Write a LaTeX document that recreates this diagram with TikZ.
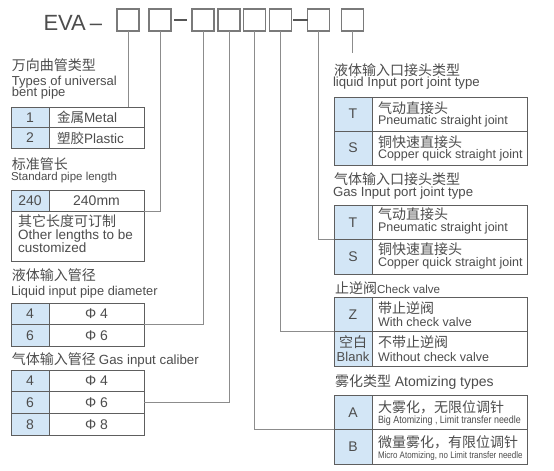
\documentclass[tikz,border=0pt]{standalone}
\usepackage{fontspec}
\usepackage{graphicx}
\setmainfont{Liberation Sans}
\newfontfamily\cjk{Noto Sans CJK SC}
\newcommand\zh[1]{{\cjk #1}}
\newcommand\fs[1]{\fontsize{#1}{#1}\selectfont}
\definecolor{txtc}{HTML}{4D4D4D}
\definecolor{keyc}{HTML}{D3E6F6}
\definecolor{gridc}{HTML}{5E5E5E}
\definecolor{linec}{HTML}{8C8C8C}
\definecolor{boxc}{HTML}{7A7A7A}
\definecolor{dashc}{HTML}{555555}
\begin{document}
\begin{tikzpicture}[x=1pt,y=-1pt,
  tc/.style={inner sep=0pt, outer sep=0pt, text=txtc, anchor=west},
  hbox/.style={draw=boxc, line width=1.3pt, minimum size=22pt, inner sep=0pt, outer sep=0pt},
  kcell/.style={draw=gridc, line width=1pt, fill=keyc, anchor=north west, inner sep=0pt, outer sep=0pt, minimum width=38pt, text=txtc, font=\fs{14}},
  vcell/.style={draw=gridc, line width=1pt, fill=white, anchor=north west, inner sep=0pt, outer sep=0pt, text=txtc, font=\fs{14}},
  conn/.style={draw=linec, line width=0.9pt},
  dashln/.style={draw=dashc, line width=1.8pt},
  zhf/.style={font={\cjk\fs{14}}},
]
\useasboundingbox[fill=white] (0,0) rectangle (554,471);

% header
\node[tc, anchor=base west, font=\fs{22}] (eva) at (43.5,30) {EVA\kern4pt–};
\node[hbox] (b1) at (128,20) {};
\node[hbox] (b2) at (160,20) {};
\node[hbox] (b3) at (203,20) {};
\node[hbox] (b4) at (229,20) {};
\node[hbox] (b5) at (254.5,20) {};
\node[hbox] (b6) at (280.5,20) {};
\node[hbox] (b7) at (318.5,20) {};
\node[hbox] (b8) at (352.5,20) {};
\draw[dashln] ([xshift=3pt]b2.east) -- ([xshift=-5pt]b3.west);
\draw[dashln] ([xshift=1.5pt]b6.east) -- (b7.west);

% connectors (drawn first)
\coordinate (b8end) at (352.5,53);
\draw[conn] (b8.south) -- (b8end);

% ---------- left column ----------
\node[tc, zhf] (h1a) at (12,65) {万向曲管类型};
\node[tc, font=\fs{13}] (h1b) at (12,82) {Types of universal};
\node[tc, font=\fs{13}] (h1c) at (12,93.5) {bent pipe};

\node[kcell, minimum height=20.5pt] (k11) at (11,107) {1};
\node[kcell, minimum height=20.5pt] (k12) at (11,127.5) {2};
\node[vcell, minimum width=95pt, minimum height=20.5pt] (v11) at (49,107) {};
\node[vcell, minimum width=95pt, minimum height=20.5pt] (v12) at (49,127.5) {};
\node[tc, font=\fs{13.5}] (v11t) at (57,117.5) {\zh{金属}Metal};
\node[tc, font=\fs{13.5}] (v12t) at (57,138) {\zh{塑胶}Plastic};

\node[tc, zhf] (h2a) at (12,164) {标准管长};
\node[tc, font=\fs{11.5}] (h2b) at (11,178) {Standard pipe length};

\node[vcell, minimum width=133pt, minimum height=50pt] (v22) at (11,211) {};
\node[kcell, minimum height=21pt] (k21) at (11,190) {240};
\node[vcell, minimum width=95pt, minimum height=21pt] (v21) at (49,190) {240mm};
\node[tc, zhf] (v22a) at (18,221) {其它长度可订制};
\node[tc, font=\fs{13.5}] (v22b) at (18,236) {Other lengths to be};
\node[tc, font=\fs{13.5}] (v22c) at (18,248) {customized};

\node[tc, zhf] (h3a) at (12,275) {液体输入管径};
\node[tc, font=\fs{12.8}] (h3b) at (11,292) {Liquid input pipe diameter};

\node[kcell, minimum height=21.5pt] (k31) at (11,303) {4};
\node[kcell, minimum height=21.5pt] (k32) at (11,324.5) {6};
\node[vcell, minimum width=95pt, minimum height=21.5pt] (v31) at (49,303) {Φ 4};
\node[vcell, minimum width=95pt, minimum height=21.5pt] (v32) at (49,324.5) {Φ 6};

\node[tc, font=\fs{13.3}] (h4a) at (12,360) {\zh{\fs{14}气体输入管径}\kern3pt Gas input caliber};

\node[kcell, minimum height=21.7pt] (k41) at (11,370) {4};
\node[kcell, minimum height=21.7pt] (k42) at (11,391.7) {6};
\node[kcell, minimum height=21.7pt] (k43) at (11,413.4) {8};
\node[vcell, minimum width=95pt, minimum height=21.7pt] (v41) at (49,370) {Φ 4};
\node[vcell, minimum width=95pt, minimum height=21.7pt] (v42) at (49,391.7) {Φ 6};
\node[vcell, minimum width=95pt, minimum height=21.7pt] (v43) at (49,413.4) {Φ 8};

% ---------- right column ----------
\node[tc, zhf] (r1a) at (334,70) {液体输入口接头类型};
\node[tc, font=\fs{13.2}] (r1b) at (333,83) {liquid Input port joint type};

\node[kcell, minimum height=34pt] (lk1) at (334,97) {T};
\node[kcell, minimum height=34pt] (lk2) at (334,131) {S};
\node[vcell, minimum width=155pt, minimum height=34pt] (lv1) at (372,97) {};
\node[vcell, minimum width=155pt, minimum height=34pt] (lv2) at (372,131) {};
\node[tc, zhf] (lv1a) at (378,108.5) {气动直接头};
\node[tc, font=\fs{12.5}] (lv1b) at (378,121) {Pneumatic straight joint};
\node[tc, zhf] (lv2a) at (378,142.5) {铜快速直接头};
\node[tc, font=\fs{12.5}] (lv2b) at (378,155.5) {Copper quick straight joint};

\node[tc, zhf] (r2a) at (334,179) {气体输入口接头类型};
\node[tc, font=\fs{13.2}] (r2b) at (333,193) {Gas Input port joint type};

\node[kcell, minimum height=34.5pt] (gk1) at (334,205) {T};
\node[kcell, minimum height=34.5pt] (gk2) at (334,239.5) {S};
\node[vcell, minimum width=155pt, minimum height=34.5pt] (gv1) at (372,205) {};
\node[vcell, minimum width=155pt, minimum height=34.5pt] (gv2) at (372,239.5) {};
\node[tc, zhf] (gv1a) at (378,214.5) {气动直接头};
\node[tc, font=\fs{12.5}] (gv1b) at (378,228.5) {Pneumatic straight joint};
\node[tc, zhf] (gv2a) at (378,249) {铜快速直接头};
\node[tc, font=\fs{12.5}] (gv2b) at (378,263) {Copper quick straight joint};

\node[tc, font=\fs{11.6}] (r3a) at (335,288) {\zh{\fs{14}止逆阀}Check valve};

\node[kcell, minimum height=34.5pt] (ck1) at (334,297) {Z};
\node[kcell, minimum height=34.5pt] (ck2) at (334,331.5) {};
\node[vcell, minimum width=155pt, minimum height=34.5pt] (cv1) at (372,297) {};
\node[vcell, minimum width=155pt, minimum height=34.5pt] (cv2) at (372,331.5) {};
\node[tc, zhf, anchor=center] (ck2a) at (353,342.5) {空白};
\node[tc, font=\fs{13}, anchor=center] (ck2b) at (353,357) {Blank};
\node[tc, zhf] (cv1a) at (378,308) {带止逆阀};
\node[tc, font=\fs{12.5}] (cv1b) at (378,322) {With check valve};
\node[tc, zhf] (cv2a) at (378,342.5) {不带止逆阀};
\node[tc, font=\fs{12.5}] (cv2b) at (378,357) {Without check valve};

\node[tc, font=\fs{14}] (r4a) at (335,382) {\zh{雾化类型} Atomizing types};

\node[kcell, minimum height=34.5pt] (ak1) at (334,395) {A};
\node[kcell, minimum height=34.5pt] (ak2) at (334,429.5) {B};
\node[vcell, minimum width=155pt, minimum height=34.5pt] (av1) at (372,395) {};
\node[vcell, minimum width=155pt, minimum height=34.5pt] (av2) at (372,429.5) {};
\node[tc, zhf] (av1a) at (378,407.5) {大雾化，无限位调针};
\node[tc] (av1b) at (378,420.5) {\scalebox{0.85}[1]{\fs{10.5}Big Atomizing , Limit transfer needle}};
\node[tc, zhf] (av2a) at (378,442) {微量雾化，有限位调针};
\node[tc] (av2b) at (378,456) {\scalebox{0.84}[1]{\fs{9.5}Micro Atomizing, no Limit transfer needle}};

% connectors from code boxes to tables
\draw[conn] (b1.south) -- (b1.south |- v11.north);
\draw[conn] (b2.south) |- (v21.south east);
\draw[conn] (b3.south) |- (v31.south east);
\draw[conn] (b4.south) |- (v42.east);
\draw[conn] (b5.south) |- (ak1.south west);
\draw[conn] (b6.south) |- (ck1.south west);
\draw[conn] (b7.south) |- (gk1.south west);
\end{tikzpicture}
\end{document}
